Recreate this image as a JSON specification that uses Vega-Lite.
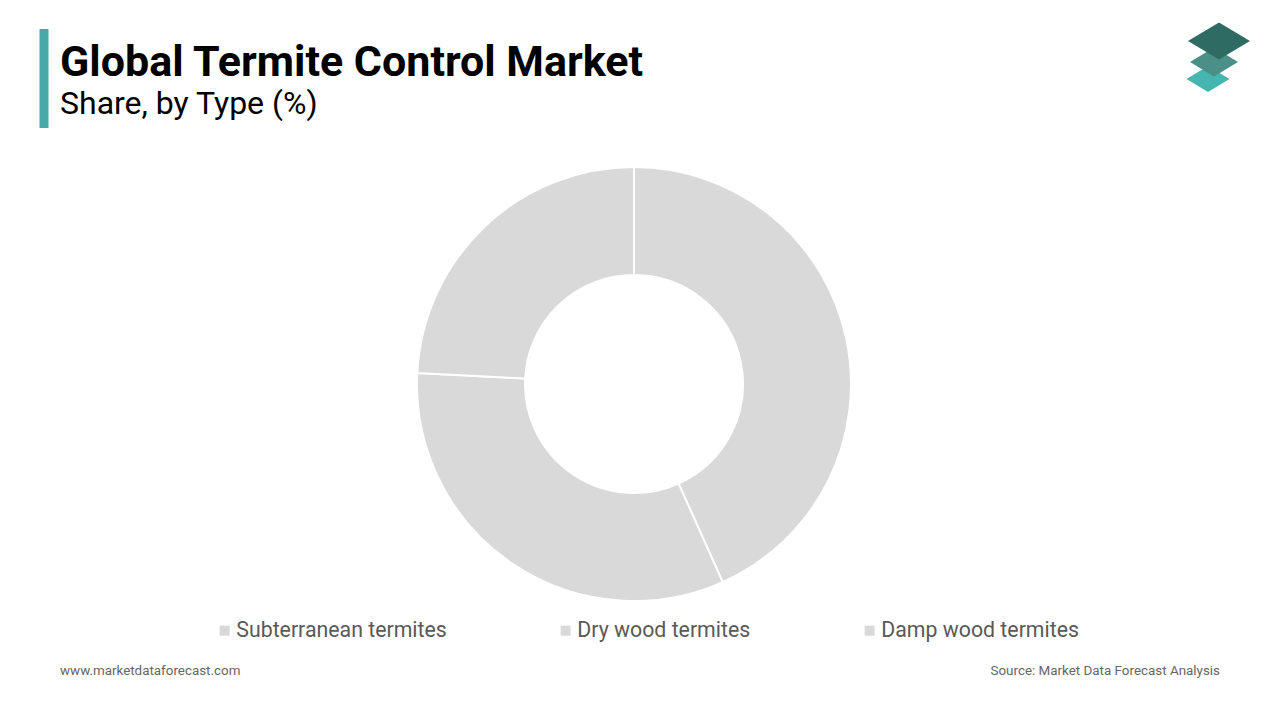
{
  "$schema": "https://vega.github.io/schema/vega-lite/v6.json",
  "autosize": "none",
  "width": 1268,
  "height": 508,
  "padding": {"left": 0, "top": 130, "right": 12, "bottom": 82},
  "background": "white",
  "config": {"view": {"stroke": null}, "font": "Roboto"},
  "title": {
    "text": "Global Termite Control Market",
    "subtitle": "Share, by Type (%)",
    "anchor": "start",
    "dx": 60,
    "dy": 108,
    "font": "Roboto",
    "fontSize": 43,
    "fontWeight": "bold",
    "color": "#000000",
    "subtitleFont": "Roboto",
    "subtitleFontSize": 32,
    "subtitleColor": "#000000",
    "subtitlePadding": 4,
    "offset": 10
  },
  "layer": [
    {
      "data": {
        "values": [
          {"type": "Subterranean termites", "share": 43.3},
          {"type": "Dry wood termites", "share": 32.5},
          {"type": "Damp wood termites", "share": 24.2}
        ]
      },
      "mark": {"type": "arc", "outerRadius": 217, "innerRadius": 109, "stroke": "#ffffff", "strokeWidth": 2},
      "encoding": {
        "theta": {"field": "share", "type": "quantitative", "stack": true},
        "order": {"field": "share", "type": "quantitative", "sort": "descending"},
        "color": {
          "field": "type",
          "type": "nominal",
          "scale": {
            "domain": ["Subterranean termites", "Dry wood termites", "Damp wood termites"],
            "range": ["#d9d9d9", "#d9d9d9", "#d9d9d9"]
          },
          "legend": {
            "orient": "none",
            "legendX": 214,
            "legendY": 490,
            "direction": "horizontal",
            "title": null,
            "symbolType": "square",
            "symbolSize": 100,
            "symbolStrokeWidth": 0,
            "labelFont": "Roboto",
            "labelFontSize": 21.3,
            "labelColor": "#595959",
            "labelOffset": 1,
            "labelLimit": 400,
            "columnPadding": 108
          }
        },
        "tooltip": [{"field": "type"}, {"field": "share"}]
      }
    },
    {
      "data": {"values": [{}]},
      "mark": {"type": "rule", "color": "#48aaa8", "strokeWidth": 9},
      "encoding": {"x": {"value": 44}, "y": {"value": -101}, "y2": {"value": -2}}
    },
    {
      "data": {"values": [{}]},
      "mark": {"type": "point", "shape": "M0,-0.6L1,0L0,0.6L-1,0Z", "filled": true, "opacity": 1, "color": "#45b5b0", "size": 1849},
      "encoding": {"x": {"value": 1208}, "y": {"value": -51}}
    },
    {
      "data": {"values": [{}]},
      "mark": {"type": "point", "shape": "M0,-0.6L1,0L0,0.6L-1,0Z", "filled": true, "opacity": 1, "color": "#4a8f88", "size": 2304},
      "encoding": {"x": {"value": 1214}, "y": {"value": -68}}
    },
    {
      "data": {"values": [{}]},
      "mark": {"type": "point", "shape": "M0,-0.6L1,0L0,0.6L-1,0Z", "filled": true, "opacity": 1, "color": "#2e6b62", "size": 3844},
      "encoding": {"x": {"value": 1219}, "y": {"value": -89}}
    },
    {
      "data": {"values": [{}]},
      "mark": {"type": "text", "text": "www.marketdataforecast.com", "align": "left", "baseline": "alphabetic", "font": "Roboto", "fontSize": 13.4, "color": "#666666"},
      "encoding": {"x": {"value": 60}, "y": {"value": 545}}
    },
    {
      "data": {"values": [{}]},
      "mark": {"type": "text", "text": "Source: Market Data Forecast Analysis", "align": "right", "baseline": "alphabetic", "font": "Roboto", "fontSize": 13.4, "color": "#666666"},
      "encoding": {"x": {"value": 1220}, "y": {"value": 545}}
    }
  ]
}
